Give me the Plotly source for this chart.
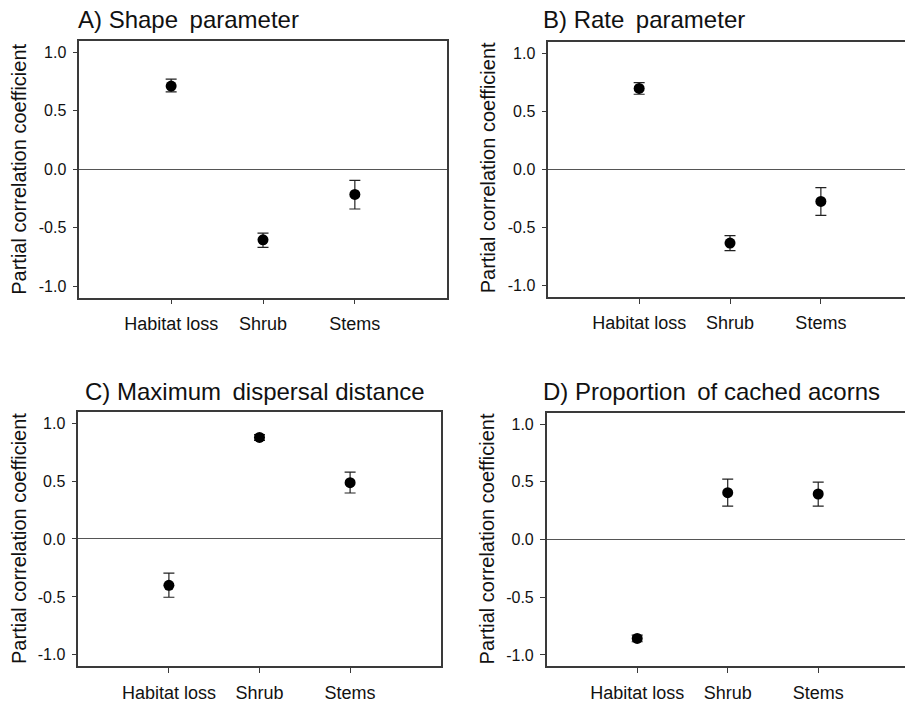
import plotly.graph_objects as go

categories = ["Habitat loss", "Shrub", "Stems"]
cat_pos = [1, 2, 3]
y_ticks = [-1.0, -0.5, 0.0, 0.5, 1.0]
y_tick_text = ["-1.0", "-0.5", "0.0", "0.5", "1.0"]

titles = ["A) Shape\u2009 parameter", "B) Rate\u2009 parameter",
          "C) Maximum\u2009 dispersal distance", "D) Proportion\u2009 of cached acorns"]
y_title = "Partial correlation coefficient"

shape_vals = [0.71, -0.605, -0.216]
shape_plus = [0.06, 0.057, 0.12]
shape_minus = [0.05, 0.065, 0.125]

rate_vals = [0.70, -0.634, -0.275]
rate_plus = [0.05, 0.064, 0.12]
rate_minus = [0.05, 0.066, 0.121]

maxdist_vals = [-0.40, 0.877, 0.486]
maxdist_plus = [0.106, 0.023, 0.091]
maxdist_minus = [0.103, 0.026, 0.089]

cached_vals = [-0.857, 0.406, 0.394]
cached_plus = [0.028, 0.117, 0.103]
cached_minus = [0.029, 0.117, 0.105]

W, H = 905, 703
series = [
    (shape_vals, shape_plus, shape_minus),
    (rate_vals, rate_plus, rate_minus),
    (maxdist_vals, maxdist_plus, maxdist_minus),
    (cached_vals, cached_plus, cached_minus),
]
# panel boxes in pixels: left, right, top, bottom, xrange max, right border shown
boxes = [
    (79.3, 446.7, 40.7, 299.0, 4.0, True),
    (548.3, 905.0, 42.3, 298.3, 3.926, False),
    (78.3, 440.7, 413.3, 669.3, 4.0, True),
    (546.7, 905.0, 414.3, 669.3, 3.959, False),
]
ytitle_pos = [(19, 170.5), (488, 169), (18.3, 541), (486.7, 541)]
title_pos = [(76, 20), (540.7, 20), (82.7, 393), (540.7, 393)]

FONT = "Liberation Sans, Arial, sans-serif"
LINE = "#3a3a3a"

fig = go.Figure()
layout = dict(width=W, height=H, margin=dict(l=0, r=0, t=0, b=0),
              paper_bgcolor="white", plot_bgcolor="white", showlegend=False,
              font=dict(family=FONT, color="#111"))
annotations = []
for i, ((vals, plus, minus), (l, r, t, b, xmax, rb)) in enumerate(zip(series, boxes)):
    n = i + 1
    xa = "x" if n == 1 else f"x{n}"
    ya = "y" if n == 1 else f"y{n}"
    fig.add_trace(go.Scatter(
        x=cat_pos, y=vals, mode="markers", xaxis=xa, yaxis=ya,
        marker=dict(color="black", size=11),
        error_y=dict(type="data", symmetric=False, array=plus, arrayminus=minus,
                     color="#222", thickness=1.2, width=5.5),
    ))
    layout["xaxis" if n == 1 else f"xaxis{n}"] = dict(
        domain=[l / W, r / W], range=[0, xmax], anchor=ya,
        tickvals=cat_pos, ticktext=categories, ticks="outside", ticklen=5,
        tickcolor=LINE, tickwidth=1.2, showline=True, linecolor=LINE, linewidth=1.5,
        mirror=True, showgrid=False, zeroline=False,
        tickfont=dict(size=18, family=FONT, color="#111"), ticklabelstandoff=4,
        fixedrange=True,
    )
    layout["yaxis" if n == 1 else f"yaxis{n}"] = dict(
        domain=[1 - b / H, 1 - t / H], range=[-1.1, 1.1], anchor=xa,
        tickvals=y_ticks, ticktext=y_tick_text, ticks="outside", ticklen=5,
        tickcolor=LINE, tickwidth=1.2, showline=True, linecolor=LINE, linewidth=1.5,
        mirror=rb, showgrid=False, zeroline=True, zerolinecolor="#555",
        zerolinewidth=1.2, tickfont=dict(size=16, family=FONT, color="#111"),
        ticklabelstandoff=3, fixedrange=True,
    )
    tx, ty = title_pos[i]
    annotations.append(dict(text=titles[i], x=tx / W, y=1 - ty / H, xref="paper",
                            yref="paper", xanchor="left", yanchor="middle",
                            showarrow=False, font=dict(size=24, family=FONT, color="#111")))
    ax, ay = ytitle_pos[i]
    annotations.append(dict(text=y_title, x=ax / W, y=1 - ay / H, xref="paper",
                            yref="paper", xanchor="center", yanchor="middle",
                            textangle=-90, showarrow=False,
                            font=dict(size=20, family=FONT, color="#111")))
layout["annotations"] = annotations
fig.update_layout(**layout)
fig.write_html("out.html", config={"displayModeBar": False})
